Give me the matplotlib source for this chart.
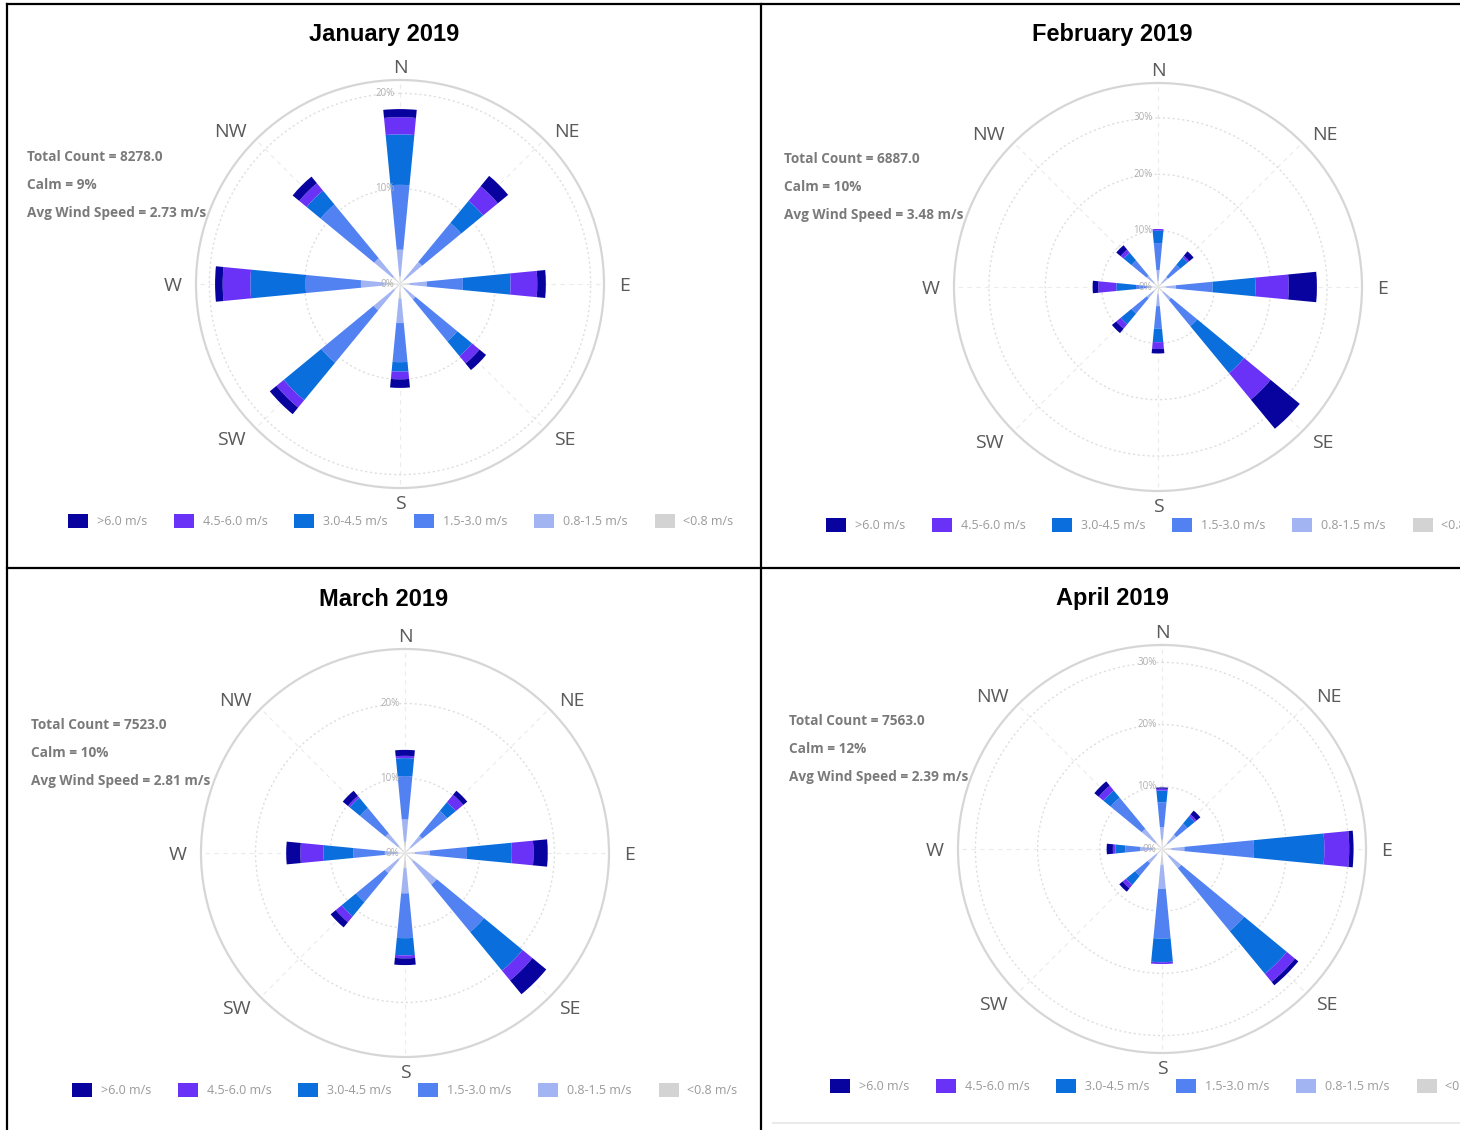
import numpy as np
import matplotlib
matplotlib.use("Agg")
import matplotlib.pyplot as plt
from matplotlib.lines import Line2D
from matplotlib.patches import Patch

W, H = 1460, 1130

directions = ["N", "NE", "E", "SE", "S", "SW", "W", "NW"]
angles = [0, 45, 90, 135, 180, 225, 270, 315]
speed_bins = ["<0.8 m/s", "0.8-1.5 m/s", "1.5-3.0 m/s", "3.0-4.5 m/s", "4.5-6.0 m/s", ">6.0 m/s"]
bin_colors = ["#d3d3d3", "#a2b5f2", "#5282f2", "#0a6fdc", "#6a32f7", "#08039e"]

# frequency (%) per speed bin (rows, slowest first), columns follow `directions`
jan_freq = [
    [0.8, 0.6, 1.0, 0.6, 1.5, 0.8, 1.6, 1.0],
    [2.8, 2.4, 1.8, 1.5, 2.6, 2.8, 2.5, 2.5],
    [6.8, 5.3, 3.8, 5.7, 4.1, 7.1, 5.8, 7.3],
    [5.3, 3.0, 5.0, 2.0, 1.0, 5.1, 5.8, 1.9],
    [1.8, 2.0, 2.8, 1.0, 0.8, 1.0, 2.9, 1.0],
    [0.85, 1.4, 0.9, 0.9, 0.9, 0.9, 0.8, 0.9],
]
feb_freq = [
    [1.0, 0.8, 1.4, 1.2, 1.2, 1.0, 1.0, 1.0],
    [2.0, 1.5, 1.8, 1.8, 2.2, 1.6, 1.0, 1.6],
    [4.8, 2.8, 6.5, 6.0, 4.0, 3.5, 1.9, 3.5],
    [2.2, 1.7, 7.6, 10.8, 2.4, 2.5, 3.5, 1.8],
    [0.3, 0.4, 5.9, 6.1, 1.2, 1.0, 3.2, 0.7],
    [0.0, 1.0, 5.0, 6.7, 0.8, 1.0, 1.0, 1.0],
]
mar_freq = [
    [1.5, 1.0, 1.3, 1.5, 2.0, 1.2, 1.0, 1.2],
    [3.0, 2.0, 2.0, 4.0, 3.4, 2.3, 1.7, 2.2],
    [5.8, 4.3, 5.0, 8.2, 6.0, 5.0, 4.2, 4.4],
    [2.4, 1.5, 6.0, 6.7, 2.3, 2.5, 4.0, 1.8],
    [0.3, 1.3, 2.9, 1.7, 0.4, 1.0, 3.1, 0.3],
    [0.8, 0.7, 1.9, 2.4, 0.9, 0.9, 1.9, 0.9],
]
apr_freq = [
    [1.5, 1.2, 1.5, 1.5, 2.5, 1.2, 1.5, 1.4],
    [2.0, 1.8, 2.1, 2.5, 3.9, 1.8, 2.0, 2.8],
    [4.0, 2.3, 11.2, 13.1, 8.0, 2.6, 2.4, 6.5],
    [1.9, 1.5, 11.3, 8.9, 3.8, 1.9, 1.6, 1.5],
    [0.3, 0.4, 4.0, 1.7, 0.3, 0.7, 0.4, 1.0],
    [0.2, 0.8, 0.7, 0.7, 0.0, 0.7, 1.0, 0.9],
]

titles = ["January 2019", "February 2019", "March 2019", "April 2019"]
total_counts = ["8278.0", "6887.0", "7523.0", "7563.0"]
calm_pct = ["9%", "10%", "10%", "12%"]
avg_speed = ["2.73", "3.48", "2.81", "2.39"]
r_max = [21.4, 36.2, 27.3, 32.8]
r_rings = [[10, 20], [10, 20, 30], [10, 20], [10, 20, 30]]

# panel layout in pixels: rose centre, title centre, stats text, legend start
centres = [(400, 284), (1158, 287), (405, 853), (1162, 849)]
title_xy = [(384, 34), (1112, 34), (384, 599), (1112, 599)]
stats_xy = [(27, 157), (784, 159), (31, 725), (789, 721)]
legend_xy = [(68, 521), (826, 525), (72, 1090), (830, 1086)]
R = 204
# pixel offset (right, down) of each compass label from its point on the rim
label_dx = [0, 23, 21, 21, 0, -24, -23, -25]
label_dy = [-12, -8, 2, 12, 16, 12, 2, -8]


def fx(x):
    return x / W


def fy(y):
    return 1 - y / H


fig = plt.figure(figsize=(W / 100, H / 100), dpi=100)
fig.patch.set_facecolor("white")

months = [jan_freq, feb_freq, mar_freq, apr_freq]
theta = np.deg2rad(angles)
width = np.deg2rad(11)

for i, freq in enumerate(months):
    cx, cy = centres[i]
    ax = fig.add_axes([fx(cx - R), fy(cy + R), 2 * R / W, 2 * R / H], projection="polar")
    ax.set_theta_zero_location("N")
    ax.set_theta_direction(-1)

    bottom = np.zeros(len(directions))
    for k in range(len(speed_bins)):
        vals = np.array(freq[k])
        ax.bar(theta, vals, width=width, bottom=bottom, color=bin_colors[k],
               linewidth=0, zorder=3)
        bottom += vals

    ax.set_ylim(0, r_max[i])
    ax.set_yticks(r_rings[i])
    ax.set_yticklabels([])
    ax.set_xticks(theta)
    ax.set_xticklabels([])
    ax.xaxis.grid(True, linestyle=(0, (4, 4)), color="#ebebeb", linewidth=0.8)
    ax.yaxis.grid(True, linestyle=(0, (1.5, 2)), color="#dedede", linewidth=1.0)
    ax.spines["polar"].set_color("#d6d6d6")
    ax.spines["polar"].set_linewidth(1.6)

    # compass labels just outside the rim
    for d, a, ox, oy in zip(directions, theta, label_dx, label_dy):
        ax.annotate(d, xy=(a, r_max[i]), xytext=(ox, -oy),
                    textcoords="offset pixels", ha="center", va="center",
                    fontsize=14, color="#5a5a5a", family="Open Sans",
                    annotation_clip=False)

    for r in [0] + r_rings[i]:
        ax.annotate(f"{r}%", xy=(0, r), xytext=(-4, 0), textcoords="offset points",
                    ha="right", va="center", fontsize=7, color="#b0b0b0",
                    family="Open Sans", zorder=4)

    fig.text(fx(title_xy[i][0]), fy(title_xy[i][1]), titles[i], ha="center", va="center",
             fontsize=17, fontweight="bold", family="Liberation Sans")

    sx, sy = stats_xy[i]
    lines = [f"Total Count = {total_counts[i]}", f"Calm = {calm_pct[i]}",
             f"Avg Wind Speed = {avg_speed[i]} m/s"]
    for j, txt in enumerate(lines):
        fig.text(fx(sx), fy(sy + 28 * j), txt, ha="left", va="center", fontsize=9.8,
                 fontweight="bold", color="#7a7a7a", family="Open Sans")

    handles = [Patch(facecolor=bin_colors[k], edgecolor="none") for k in range(5, -1, -1)]
    labels = [speed_bins[k] for k in range(5, -1, -1)]
    lx, ly = legend_xy[i]
    fig.legend(handles, labels, ncol=6, loc="center left",
               bbox_to_anchor=(fx(lx), fy(ly)), frameon=False,
               handlelength=1.6, handleheight=1.35, handletextpad=0.7,
               columnspacing=2.15, borderpad=0, borderaxespad=0,
               labelcolor="#9a9a9a", prop={"family": "Open Sans", "size": 9})

# table borders
border = dict(color="black", linewidth=1.6)
fig.add_artist(Line2D([fx(7), fx(7)], [fy(4), fy(1130)], **border))
fig.add_artist(Line2D([fx(761), fx(761)], [fy(4), fy(1130)], **border))
fig.add_artist(Line2D([fx(7), 1], [fy(4), fy(4)], **border))
fig.add_artist(Line2D([fx(7), 1], [fy(568), fy(568)], **border))
fig.add_artist(Line2D([fx(773), 1], [fy(1123), fy(1123)], color="#e6e6e6", linewidth=1.2))

fig.savefig("out.png", dpi=100, facecolor="white")
